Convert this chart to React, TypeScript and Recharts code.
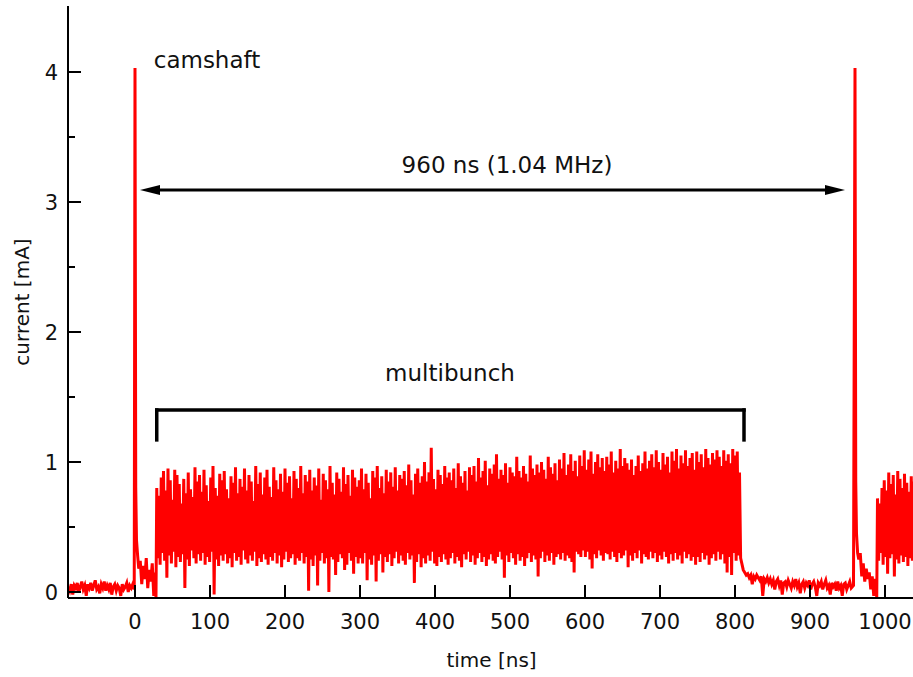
import { Line, LineChart, ReferenceDot, ReferenceLine, XAxis, YAxis } from "recharts";

// time axis [ns], current [mA]
const xTicks = [0, 100, 200, 300, 400, 500, 600, 700, 800, 900, 1000];
const yTicks = [0, 0.5, 1, 1.5, 2, 2.5, 3, 3.5, 4];

// baseline noise before the camshaft bunch, every 2 ns from -89 ns
const preStart = -89;
const preStep = 2;
const preNoise = [
  0.04, 0.01, 0.06, -0.02, 0.05, 0.03, 0.07, 0.0, 0.04, 0.08,
  0.02, 0.05, -0.03, 0.06, 0.03, 0.07, 0.01, 0.05, 0.09, 0.02,
  0.04, -0.01, 0.06, 0.03, 0.08, 0.01, 0.05, 0.02, 0.07, -0.02,
  0.04, 0.06, 0.01, 0.05, 0.03, -0.03, 0.06, 0.02, 0.04, 0.07,
  0.0, 0.05, 0.03, 0.06, 0.02,
];

// camshaft bunch at 0 ns and its ringing
const spike1Times = [-1, 0, 1, 2, 3.5, 5, 7, 9, 11, 13, 15, 17, 19, 21, 23, 25, 27, 28];
const spike1Values = [0.05, 4.03, 0.8, 0.4, 0.28, 0.18, 0.24, 0.06, 0.2, 0.1, 0.26, 0.03, 0.17, 0.08, 0.22, -0.03, 0.15, -0.04];

// multibunch train: peak every 3 ns from 29 ns, trough 1.5 ns later
const trainStart = 29;
const trainStep = 3;
const trainPeaks = [
  0.8, 0.74, 0.88, 0.93, 0.78, 0.95, 0.86, 0.71, 0.94, 0.9,
  0.83, 0.68, 0.87, 0.76, 0.92, 0.79, 0.73, 0.96, 0.85, 0.9,
  0.77, 0.94, 0.82, 0.7, 0.88, 0.97, 0.8, 0.74, 0.91, 0.86,
  0.93, 0.79, 0.72, 0.89, 0.84, 0.96, 0.76, 0.87, 0.81, 0.95,
  0.78, 0.9, 0.85, 0.7, 0.97, 0.83, 0.92, 0.75, 0.88, 0.94,
  0.81, 0.73, 0.96, 0.86, 0.79, 0.91, 0.77, 0.95, 0.84, 0.89,
  0.72, 0.93, 0.87, 0.8, 0.97, 0.76, 0.9, 0.85, 0.94, 0.78,
  0.88, 0.82, 0.95, 0.71, 0.91, 0.86, 0.79, 0.97, 0.84, 0.75,
  0.92, 0.87, 0.77, 0.96, 0.83, 0.9, 0.74, 0.94, 0.88, 0.81,
  0.86, 0.95, 0.79, 0.91, 0.84, 0.72, 0.93, 0.88, 0.97, 0.8,
  0.89, 0.76, 0.94, 0.85, 0.92, 0.81, 0.96, 0.78, 0.9, 0.87,
  0.93, 0.82, 0.98, 0.86, 0.75, 0.91, 0.95, 0.84, 0.89, 1.0,
  0.85, 0.92, 1.11, 0.87, 0.79, 0.94, 0.9, 0.83, 0.97, 0.88,
  0.92, 0.86, 0.95, 0.8, 0.99, 0.89, 0.84, 0.93, 0.78, 0.96,
  0.9, 0.97, 0.85, 1.03, 0.88, 0.93, 1.01, 0.82, 0.95, 0.91,
  0.98, 1.06, 0.87, 0.94, 0.9, 0.99, 0.84, 0.96, 0.92, 0.89,
  1.04, 0.93, 0.88, 0.97, 0.91, 0.85, 1.05, 0.95, 0.9, 0.98,
  0.92, 1.0, 0.94, 0.87, 1.04, 0.96, 0.91, 0.99, 0.86, 1.02,
  0.95, 1.07, 0.9, 0.98, 1.06, 0.93, 1.01, 0.89, 1.05, 0.97,
  1.09, 0.94, 1.02, 1.08, 0.91, 1.0, 1.06, 0.96, 1.03, 0.93,
  1.04, 0.98, 1.08, 0.92, 1.01, 0.95, 1.1, 0.97, 1.03, 0.99,
  0.94, 1.02, 0.9, 0.97, 1.05, 0.93, 0.99, 1.08, 0.95, 1.01,
  1.06, 0.96, 1.09, 1.0, 0.94, 1.07, 0.98, 1.04, 0.92, 1.08,
  1.01, 1.1, 0.95, 1.05, 0.99, 1.09, 0.97, 1.03, 1.07, 0.94,
  1.08, 1.0, 1.06, 0.96, 1.1, 1.03, 0.98, 1.07, 1.02, 1.09,
  1.04, 0.97, 1.09, 1.01, 1.06, 0.99, 1.1, 1.05, 1.08, 0.92,
];
const trainTroughs = [
  0.26, 0.21, 0.3, 0.24, 0.11, 0.28, 0.22, 0.31, 0.19, 0.27,
  0.23, 0.29, 0.03, 0.25, 0.2, 0.32, 0.26, 0.22, 0.29, 0.24,
  0.3, 0.21, 0.27, 0.23, 0.31, -0.02, 0.25, 0.2, 0.28, 0.24,
  0.29, 0.22, 0.26, 0.19, 0.3, 0.24, 0.27, 0.21, 0.32, 0.25,
  0.22, 0.28, 0.24, 0.31, 0.2, 0.26, 0.23, 0.29, 0.25, 0.21,
  0.27, 0.24, 0.3, 0.22, 0.28, 0.19, 0.25, 0.31, 0.23, 0.26,
  0.29, 0.21, 0.26, 0.24, 0.3, 0.22, 0.27, 0.01, 0.25, 0.2,
  0.28, 0.05, 0.24, 0.3, 0.22, 0.26, 0.0, 0.27, 0.25, 0.13,
  0.23, 0.29, 0.26, 0.17, 0.21, 0.3, 0.24, 0.14, 0.27, 0.22,
  0.26, 0.22, 0.3, 0.09, 0.25, 0.21, 0.28, 0.08, 0.24, 0.29,
  0.15, 0.27, 0.23, 0.29, 0.2, 0.26, 0.31, 0.22, 0.28, 0.24,
  0.21, 0.3, 0.25, 0.28, 0.07, 0.23, 0.29, 0.19, 0.26, 0.22,
  0.28, 0.24, 0.31, 0.22, 0.2, 0.27, 0.23, 0.29, 0.25, 0.21,
  0.26, 0.3, 0.22, 0.27, 0.24, 0.19, 0.29, 0.25, 0.31, 0.23,
  0.28, 0.21, 0.26, 0.3, 0.23, 0.27, 0.2, 0.25, 0.29, 0.24,
  0.22, 0.27, 0.31, 0.25, 0.11, 0.28, 0.23, 0.3, 0.26, 0.21,
  0.29, 0.24, 0.27, 0.2, 0.26, 0.3, 0.23, 0.28, 0.25, 0.12,
  0.26, 0.31, 0.23, 0.28, 0.24, 0.3, 0.21, 0.27, 0.29, 0.25,
  0.3, 0.24, 0.28, 0.26, 0.23, 0.15, 0.31, 0.29, 0.27, 0.32,
  0.27, 0.31, 0.25, 0.18, 0.29, 0.26, 0.32, 0.28, 0.24, 0.3,
  0.29, 0.25, 0.31, 0.27, 0.23, 0.3, 0.26, 0.28, 0.32, 0.19,
  0.28, 0.24, 0.3, 0.26, 0.32, 0.22, 0.29, 0.27, 0.25, 0.31,
  0.26, 0.3, 0.23, 0.28, 0.25, 0.31, 0.27, 0.22, 0.29, 0.24,
  0.3, 0.25, 0.28, 0.22, 0.31, 0.26, 0.29, 0.24, 0.27, 0.21,
  0.27, 0.23, 0.3, 0.25, 0.28, 0.21, 0.26, 0.29, 0.24, 0.31,
  0.25, 0.29, 0.22, 0.15, 0.27, 0.13, 0.3, 0.24, 0.28, 0.26,
];

// empty gap after the train, every 2 ns from 811 ns
const gapStart = 811;
const gapStep = 2;
const gapNoise = [
  0.17, 0.15, 0.13, 0.14, 0.11, 0.13, 0.06, 0.12, 0.1, 0.13,
  0.11, 0.09, 0.12, -0.03, 0.1, 0.08, 0.11, 0.07, 0.1, 0.06,
  0.09, 0.02, 0.08, 0.1, 0.05, 0.09, -0.02, 0.07, 0.08, 0.04,
  0.09, 0.06, 0.03, 0.08, 0.05, 0.1, 0.04, 0.07, -0.01, 0.06,
  0.08, 0.03, 0.07, 0.05, 0.09, 0.02, 0.06, 0.08, 0.04, -0.03,
  0.07, 0.05, 0.08, 0.02, 0.06, 0.09, 0.03, 0.05, -0.02, 0.07,
  0.04, 0.06, 0.01, 0.08, 0.03, 0.05, -0.03, 0.06, 0.07, 0.02,
  0.05, 0.08, 0.03,
];

// next camshaft bunch at 960 ns
const spike2Times = [958, 960, 961, 962, 963.5, 965, 967, 969, 971, 973, 975, 977, 979, 981, 983, 985, 987, 989];
const spike2Values = [0.05, 4.03, 0.85, 0.45, 0.3, 0.25, 0.3, 0.12, 0.22, 0.08, 0.18, 0.1, 0.15, 0.02, 0.12, -0.03, 0.1, -0.04];

// start of the next multibunch train
const train2Start = 990;
const train2Peaks = [0.72, 0.68, 0.8, 0.86, 0.78, 0.92, 0.83, 0.9, 0.75, 0.93, 0.87, 0.8, 0.91, 0.84, 0.77, 0.89, 0.85];
const train2Troughs = [0.24, 0.3, 0.21, 0.27, 0.14, 0.26, 0.29, 0.12, 0.25, 0.22, 0.28, 0.23, 0.27, 0.2, 0.26, 0.24, 0.29];

const rows: { t: number; v: number }[] = [];
preNoise.forEach((v, i) => rows.push({ t: preStart + i * preStep, v }));
spike1Values.forEach((v, i) => rows.push({ t: spike1Times[i], v }));
trainPeaks.forEach((v, i) => {
  rows.push({ t: trainStart + i * trainStep, v });
  rows.push({ t: trainStart + i * trainStep + trainStep / 2, v: trainTroughs[i] });
});
gapNoise.forEach((v, i) => rows.push({ t: gapStart + i * gapStep, v }));
spike2Values.forEach((v, i) => rows.push({ t: spike2Times[i], v }));
train2Peaks.forEach((v, i) => {
  rows.push({ t: train2Start + i * trainStep, v });
  rows.push({ t: train2Start + i * trainStep + trainStep / 2, v: train2Troughs[i] });
});

const font = "'DejaVu Sans', sans-serif";
const ink = "#111";

function LeftTick(props: any) {
  const { x, y, payload } = props;
  const ax = x + 8;
  const major = Number.isInteger(payload.value);
  return (
    <g>
      <line x1={ax} x2={ax + (major ? 13 : 7)} y1={y} y2={y} stroke="#000" strokeWidth={2} />
      {major && (
        <text x={ax - 10} y={y} dy="0.36em" textAnchor="end" fontFamily={font} fontSize={21} fill={ink}>
          {payload.value}
        </text>
      )}
    </g>
  );
}

function RightTick(props: any) {
  const { x, y, payload } = props;
  const major = Number.isInteger(payload.value);
  return <line x1={x} x2={x - (major ? 13 : 7)} y1={y} y2={y} stroke="#000" strokeWidth={2} />;
}

function BottomTick(props: any) {
  const { x, y, payload } = props;
  const ay = y - 8;
  return (
    <g>
      <line x1={x} x2={x} y1={ay} y2={ay - 13} stroke="#000" strokeWidth={2} />
      <text x={x} y={ay + 31} textAnchor="middle" fontFamily={font} fontSize={21} fill={ink}>
        {payload.value}
      </text>
    </g>
  );
}

function TopTick(props: any) {
  const { x, y } = props;
  return <line x1={x} x2={x} y1={y} y2={y + 13} stroke="#000" strokeWidth={2} />;
}

function DoubleArrow(p: any) {
  const { x1, y1, x2, y2 } = p;
  const h = 20;
  const w = 5;
  return (
    <g>
      <line x1={x1 + h - 2} y1={y1} x2={x2 - h + 2} y2={y2} stroke="#000" strokeWidth={3} />
      <polygon points={`${x1},${y1} ${x1 + h},${y1 - w} ${x1 + h},${y1 + w}`} fill="#000" />
      <polygon points={`${x2},${y2} ${x2 - h},${y2 - w} ${x2 - h},${y2 + w}`} fill="#000" />
    </g>
  );
}

const noteStyle = { fontFamily: font, fontSize: 23, fill: ink };

export default function App() {
  return (
    <div style={{ position: "absolute", left: 0, top: 0, width: 913, height: 677, overflow: "hidden", background: "#fff" }}>
      <LineChart width={916} height={677} data={rows} margin={{ top: 6, right: 1, bottom: 0, left: 0 }}>
        <XAxis
          xAxisId="main"
          dataKey="t"
          type="number"
          domain={[-89.33, 1040]}
          allowDataOverflow
          ticks={xTicks}
          interval={0}
          height={79}
          tickSize={0}
          tickMargin={8}
          tickLine={false}
          tick={<BottomTick />}
          axisLine={{ stroke: "#000", strokeWidth: 2 }}
          label={{ value: "time [ns]", position: "insideBottom", offset: 10, style: { fontFamily: font, fontSize: 20, fill: ink } }}
        />
        <XAxis
          xAxisId="top"
          orientation="top"
          dataKey="t"
          type="number"
          domain={[-89.33, 1040]}
          allowDataOverflow
          ticks={xTicks}
          interval={0}
          height={0}
          tickSize={0}
          tickMargin={0}
          tickLine={false}
          tick={<TopTick />}
          axisLine={{ stroke: "#000", strokeWidth: 2 }}
        />
        <YAxis
          yAxisId="main"
          type="number"
          domain={[-0.0462, 4.5077]}
          allowDataOverflow
          ticks={yTicks}
          interval={0}
          width={68}
          tickSize={0}
          tickMargin={8}
          tickLine={false}
          tick={<LeftTick />}
          axisLine={{ stroke: "#000", strokeWidth: 2 }}
          label={{ value: "current [mA]", angle: -90, position: "insideLeft", offset: 22, style: { fontFamily: font, fontSize: 20, fill: ink, textAnchor: "middle" } }}
        />
        <YAxis
          yAxisId="right"
          orientation="right"
          type="number"
          domain={[-0.0462, 4.5077]}
          allowDataOverflow
          ticks={yTicks}
          interval={0}
          width={0}
          tickSize={0}
          tickMargin={0}
          tickLine={false}
          tick={<RightTick />}
          axisLine={{ stroke: "#000", strokeWidth: 2 }}
        />
        <Line
          xAxisId="main"
          yAxisId="main"
          type="linear"
          dataKey="v"
          stroke="#ff0000"
          strokeWidth={3}
          dot={false}
          isAnimationActive={false}
        />
        <ReferenceLine
          xAxisId="main"
          yAxisId="main"
          segment={[{ x: 6.7, y: 3.092 }, { x: 946.7, y: 3.092 }]}
          shape={DoubleArrow}
        />
        <ReferenceLine xAxisId="main" yAxisId="main" segment={[{ x: 29, y: 1.4 }, { x: 812, y: 1.4 }]} stroke="#000" strokeWidth={3.5} strokeLinecap="square" />
        <ReferenceLine xAxisId="main" yAxisId="main" segment={[{ x: 29, y: 1.4 }, { x: 29, y: 1.17 }]} stroke="#000" strokeWidth={3.5} strokeLinecap="square" />
        <ReferenceLine xAxisId="main" yAxisId="main" segment={[{ x: 812, y: 1.4 }, { x: 812, y: 1.17 }]} stroke="#000" strokeWidth={3.5} strokeLinecap="square" />
        <ReferenceDot xAxisId="main" yAxisId="main" x={96} y={4.092} r={0} fill="none" stroke="none"
          label={{ value: "camshaft", position: "center", style: noteStyle }} />
        <ReferenceDot xAxisId="main" yAxisId="main" x={496} y={3.285} r={0} fill="none" stroke="none"
          label={{ value: "960 ns (1.04 MHz)", position: "center", style: noteStyle }} />
        <ReferenceDot xAxisId="main" yAxisId="main" x={420} y={1.685} r={0} fill="none" stroke="none"
          label={{ value: "multibunch", position: "center", style: noteStyle }} />
      </LineChart>
    </div>
  );
}
